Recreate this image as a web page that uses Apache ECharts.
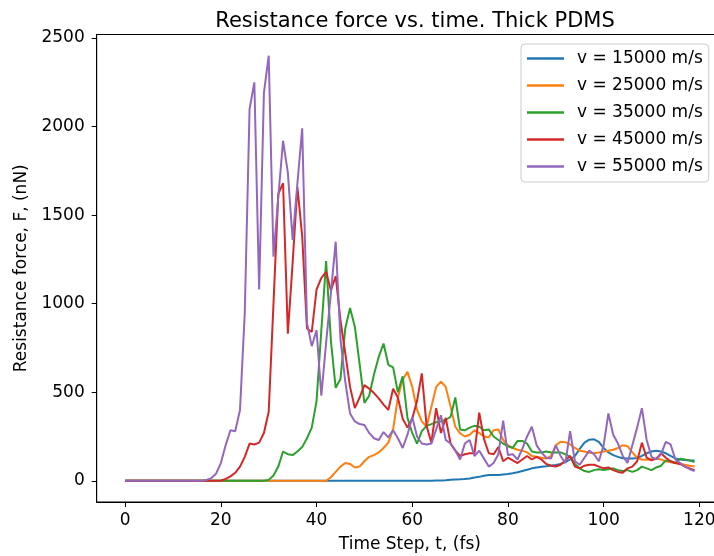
<!DOCTYPE html>
<html>
<head>
<meta charset="utf-8">
<script src="https://cdn.jsdelivr.net/npm/echarts@6/dist/echarts.min.js"></script>
<style>html,body{margin:0;padding:0;background:#fff;}#c{width:714px;height:556px;}</style>
</head>
<body>
<div id="c"></div>
<script>
var titleText = "Resistance force vs. time. Thick PDMS";
var xName = "Time Step, t, (fs)";
var yName = "Resistance force, F, (nN)";
var seriesNames = ["v = 15000 m/s", "v = 25000 m/s", "v = 35000 m/s", "v = 45000 m/s", "v = 55000 m/s"];
var colors = ["#1f77b4", "#ff7f0e", "#2ca02c", "#d62728", "#9467bd"];
var xTicks = [0, 20, 40, 60, 80, 100, 120];
var yTicks = [0, 500, 1000, 1500, 2000, 2500];

// time steps 0..119
var timeSteps = [];
for (var i = 0; i < 120; i++) timeSteps.push(i);

function zeros(n) { var a = []; for (var i = 0; i < n; i++) a.push(0); return a; }

var v15000 = zeros(65).concat([
  1, 2, 3, 5, 7, 8, 10, 13, 18, 22, 28, 32, 33, 32, 35,
  38, 42, 48, 55, 62, 70, 75, 79, 82, 86, 89, 95, 105, 120, 140,
  180, 215, 232, 234, 220, 185, 160, 145, 135, 127, 125, 125, 128, 140, 155,
  165, 170, 165, 155, 140, 126, 120, 117, 115, 115
]);

var v25000 = zeros(43).concat([
  20, 50, 80, 100, 95, 75, 80, 110, 135, 145,
  160, 185, 215, 290, 470, 570, 615, 530, 400, 335,
  305, 418, 530, 560, 530, 420, 305, 268, 250, 260,
  285, 270, 250, 245, 285, 290, 230, 200, 185, 175,
  170, 160, 140, 135, 130, 125, 140, 200, 220, 218,
  205, 185, 170, 165, 158, 155, 160, 165, 170, 175,
  185, 200, 195, 160, 130, 120, 118, 122, 126, 120,
  110, 105, 100, 95, 90, 85, 80
]);

var v35000 = zeros(30).concat([
  5, 30, 80, 165, 150, 145, 165, 190, 240, 300,
  450, 850, 1240, 790, 525, 575, 860, 975, 870, 660,
  440, 480, 600, 700, 775, 655, 640, 500, 590, 355,
  270, 210, 280, 310, 320, 330, 335, 345, 360, 470,
  290, 285, 300, 310, 305, 285, 290, 250, 230, 210,
  195, 185, 225, 225, 210, 165, 160, 160, 165, 160,
  160, 160, 150, 135, 95, 70, 55, 50, 60, 65,
  60, 65, 70, 60, 55, 60, 50, 60, 80, 70,
  60, 75, 85, 115, 110, 100, 125, 120, 115, 105
]);

var v45000 = zeros(21).concat([
  10, 25, 45, 80, 135, 210, 205, 215, 270,
  390, 1000, 1620, 1680, 830, 1230, 1660, 1380, 860, 840,
  1080, 1145, 1180, 1075, 1155, 905, 720, 530, 410, 470,
  540, 520, 495, 465, 430, 400, 520, 470, 350, 300,
  350, 450, 606, 310, 215, 410, 270, 355, 211, 170,
  140, 150, 155, 155, 385, 235, 155, 150, 190, 110,
  130, 115, 100, 120, 140, 120, 135, 120, 95, 85,
  80, 90, 115, 140, 80, 70, 85, 90, 90, 80,
  70, 75, 60, 50, 45, 70, 80, 110, 215, 130,
  115, 125, 155, 130, 110, 100, 95, 80, 70, 60
]);

var v55000 = zeros(17).concat([
  5, 15, 40,
  100, 200, 285, 280, 400, 950, 2100, 2250, 1080, 2190,
  2400, 1265, 1600, 1920, 1740, 1360, 1680, 1990, 890, 760,
  850, 480, 780, 1060, 1350, 800, 560, 380, 335, 320,
  315, 270, 240, 230, 275, 245, 285, 240, 185, 260,
  360, 250, 210, 205, 210, 290, 370, 230, 210, 170,
  120, 210, 230, 140, 170, 125, 80, 100, 150, 340,
  145, 150, 120, 180, 250, 305, 200, 160, 130, 125,
  200, 140, 100, 280, 110, 90, 130, 170, 150, 110,
  200, 380, 260, 210, 140, 100, 200, 300, 410, 230,
  135, 120, 150, 220, 205, 120, 100, 80, 65, 55
]);

var allValues = [v15000, v25000, v35000, v45000, v55000];

function pairs(vals) {
  return timeSteps.map(function (t, i) { return [t, vals[i]]; });
}

var FONT = "DejaVu Sans";
var chart = echarts.init(document.getElementById('c'), null, { renderer: 'canvas' });
chart.setOption({
  animation: false,
  backgroundColor: '#ffffff',
  title: {
    text: titleText,
    left: 410, top: 6, textAlign: 'center',
    textStyle: { fontFamily: FONT, fontSize: 21, fontWeight: 'normal', color: '#000' }
  },
  legend: {
    orient: 'vertical',
    left: 521, top: 44,
    padding: [6, 6, 7, 6],
    itemWidth: 37, itemHeight: 2.5, itemGap: 10,
    icon: 'rect',
    backgroundColor: '#fff',
    borderColor: '#cccccc', borderWidth: 1, borderRadius: 4,
    data: seriesNames,
    textStyle: { fontFamily: FONT, fontSize: 17, color: '#000', lineHeight: 16, padding: [0, 0, 0, 8] }
  },
  grid: {
    left: 96.7, width: 626.3, top: 34.5, height: 467.5,
    outerBoundsMode: 'none', containLabel: false,
    show: true, borderColor: '#000', borderWidth: 1, backgroundColor: 'transparent'
  },
  xAxis: {
    type: 'value', min: -5.95, max: 124.95,
    name: xName, nameLocation: 'middle', nameGap: 34,
    nameTextStyle: { fontFamily: FONT, fontSize: 17, color: '#000' },
    axisLine: { show: true, onZero: false, lineStyle: { color: '#000', width: 1 } },
    axisTick: { show: true, inside: false, length: 5, lineStyle: { color: '#000' }, customValues: xTicks },
    axisLabel: { fontFamily: FONT, fontSize: 17, color: '#000', margin: 10, customValues: xTicks,
      formatter: function (v) { return String(v); } },
    splitLine: { show: false }
  },
  yAxis: {
    type: 'value', min: -120, max: 2520,
    name: yName, nameLocation: 'middle', nameGap: 67, nameRotate: 90,
    nameTextStyle: { fontFamily: FONT, fontSize: 17, color: '#000' },
    axisLine: { show: true, onZero: false, lineStyle: { color: '#000', width: 1 } },
    axisTick: { show: true, inside: false, length: 5, lineStyle: { color: '#000' }, customValues: yTicks },
    axisLabel: { fontFamily: FONT, fontSize: 17, color: '#000', margin: 12, customValues: yTicks,
      formatter: function (v) { return String(v); } },
    splitLine: { show: false }
  },
  series: seriesNames.map(function (n, k) {
    return {
      name: n, type: 'line', data: pairs(allValues[k]),
      symbol: 'none', color: colors[k],
      lineStyle: { width: 2, color: colors[k] },
      itemStyle: { color: colors[k] },
      clip: true, z: 2 + k
    };
  })
});
</script>
</body>
</html>
